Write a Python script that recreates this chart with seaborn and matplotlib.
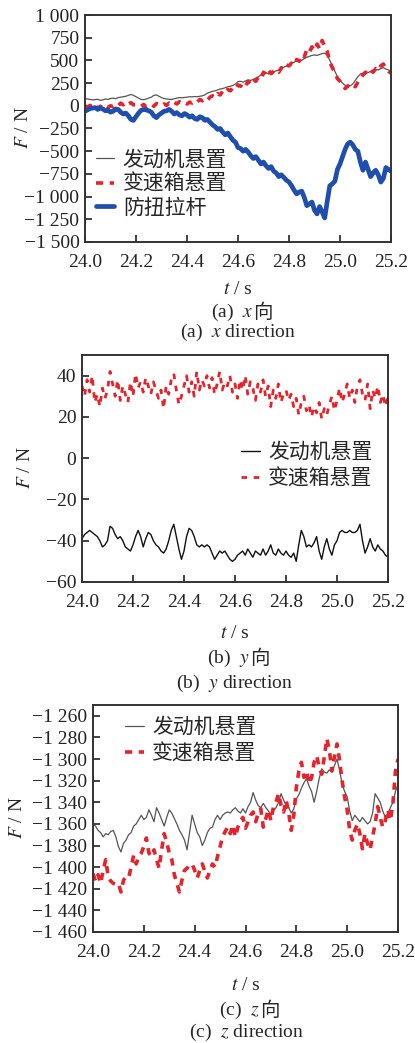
import numpy as np
import pandas as pd
import seaborn as sns
import matplotlib.pyplot as plt
from matplotlib.ticker import FuncFormatter, MultipleLocator

sns.set_style("ticks")
plt.rcParams['font.family'] = ['Liberation Serif', 'Noto Sans CJK SC']
plt.rcParams['mathtext.fontset'] = 'stix'
plt.rcParams['axes.unicode_minus'] = True

# tiempo (s), paso de 0.01 s
t = np.round(np.linspace(24.0, 25.2, 121), 2)

labels = ["发动机悬置", "变速箱悬置", "防扭拉杆"]

# (a) direccion x
fx_motor = [80, 75, 70, 65, 68, 72, 60, 65, 75, 70,
            80, 85, 78, 90, 95, 100, 105, 115, 125, 115,
            100, 85, 70, 68, 75, 85, 95, 115, 120, 105,
            90, 80, 75, 72, 70, 78, 85, 90, 88, 92,
            95, 100, 98, 102, 100, 105, 110, 120, 140, 150,
            160, 165, 175, 185, 190, 200, 210, 215, 225, 240,
            265, 270, 260, 275, 285, 280, 290, 305, 320, 340,
            370, 365, 350, 360, 375, 385, 395, 410, 425, 440,
            450, 465, 480, 495, 510, 500, 520, 535, 545, 555,
            560, 555, 565, 575, 580, 560, 500, 440, 380, 320,
            280, 250, 225, 215, 220, 240, 280, 320, 350, 360,
            355, 365, 380, 390, 400, 395, 410, 420, 405, 395,
            385]
fx_caja = [0, -15, 5, -20, 0, -25, -5, -20, 5, -15,
           0, -10, 15, 0, 30, 10, 40, 20, 35, 10,
           15, 0, -5, 15, -10, 5, 20, -5, 25, 10,
           0, 20, 5, 30, 15, 40, 20, 45, 25, 35,
           20, 40, 30, 55, 40, 70, 55, 80, 60, 95,
           110, 90, 135, 120, 160, 140, 180, 165, 200, 185,
           230, 215, 255, 225, 270, 240, 290, 270, 320, 300,
           370, 340, 390, 355, 380, 400, 370, 420, 400, 450,
           440, 470, 450, 510, 490, 560, 540, 620, 590, 650,
           610, 680, 630, 720, 650, 600, 480, 420, 360, 300,
           270, 240, 190, 220, 200, 230, 210, 260, 300, 340,
           370, 350, 390, 370, 410, 390, 440, 460, 410, 380,
           360]
fx_barra = [-60, -45, -30, -25, -20, -40, -25, -35, -55, -45,
            -70, -60, -35, -40, -70, -90, -80, -110, -150, -160,
            -120, -80, -50, -40, -45, -55, -70, -110, -130, -100,
            -80, -60, -55, -40, -60, -90, -75, -100, -110, -85,
            -100, -125, -110, -140, -150, -120, -130, -160, -150, -180,
            -210, -230, -260, -250, -290, -320, -300, -340, -380, -400,
            -460, -470, -500, -480, -510, -550, -580, -560, -600, -640,
            -620, -660, -690, -670, -720, -740, -780, -760, -790, -820,
            -840, -880, -930, -970, -950, -940, -1010, -1100, -1080, -1060,
            -1150, -1190, -1110, -1170, -1235, -1050, -880, -860, -830, -700,
            -640, -560, -480, -420, -400, -430, -480, -500, -620, -710,
            -620, -700, -780, -740, -710, -760, -840, -800, -680, -700,
            -720]

# (b) direccion y
fy_motor = [-39, -37, -36, -35, -36, -37, -38, -40, -43, -42,
            -40, -33, -34, -37, -39, -38, -40, -43, -44, -45,
            -42, -38, -35, -38, -43, -39, -36, -37, -40, -42,
            -43, -45, -46, -44, -40, -35, -32, -38, -44, -49,
            -45, -38, -34, -35, -38, -42, -43, -42, -43, -42,
            -43, -46, -49, -47, -45, -46, -45, -47, -49, -50,
            -49, -47, -46, -45, -47, -44, -46, -48, -45, -46,
            -47, -44, -47, -45, -42, -46, -47, -44, -46, -47,
            -45, -47, -48, -46, -50, -42, -35, -38, -43, -42,
            -43, -41, -38, -45, -49, -43, -39, -44, -47, -42,
            -40, -36, -35, -36, -36, -35, -36, -36, -35, -32,
            -40, -46, -43, -39, -43, -45, -42, -44, -45, -47,
            -48]
fy_caja = [35, 30, 38, 32, 40, 27, 31, 25, 34, 29,
           33, 42, 36, 30, 38, 28, 35, 31, 27, 37,
           30, 41, 34, 37, 32, 39, 35, 31, 37, 33,
           29, 33, 24, 35, 31, 38, 41, 33, 26, 30,
           35, 40, 32, 37, 30, 42, 33, 38, 35, 40,
           34, 39, 31, 36, 42, 33, 37, 35, 40, 32,
           36, 29, 38, 33, 40, 31, 37, 34, 28, 36,
           32, 38, 30, 35, 25, 33, 29, 36, 27, 31,
           33, 28, 31, 25, 29, 21, 27, 30, 23, 26,
           20, 25, 22, 27, 19, 24, 21, 26, 30, 23,
           28, 34, 27, 31, 36, 29, 33, 27, 35, 38,
           31, 28, 36, 24, 33, 29, 35, 27, 31, 25,
           30]

# (c) direccion z
fz_motor = [-1360, -1362, -1366, -1368, -1372, -1369, -1370, -1367, -1366, -1372,
            -1381, -1386, -1378, -1375, -1370, -1368, -1362, -1360, -1356, -1352,
            -1356, -1354, -1347, -1352, -1358, -1345, -1350, -1356, -1362, -1354,
            -1347, -1350, -1355, -1360, -1366, -1370, -1375, -1384, -1368, -1352,
            -1360, -1368, -1372, -1380, -1375, -1368, -1364, -1363, -1356, -1352,
            -1356, -1352, -1350, -1349, -1350, -1347, -1345, -1348, -1350, -1346,
            -1350, -1344, -1340, -1331, -1338, -1343, -1345, -1341, -1345, -1348,
            -1352, -1348, -1345, -1340, -1332, -1338, -1343, -1345, -1350, -1346,
            -1337, -1333, -1327, -1322, -1318, -1325, -1330, -1340, -1330, -1318,
            -1309, -1312, -1313, -1310, -1312, -1306, -1300, -1310, -1323, -1330,
            -1335, -1348, -1357, -1352, -1355, -1358, -1354, -1357, -1360, -1358,
            -1350, -1332, -1336, -1340, -1348, -1354, -1350, -1345, -1340, -1330,
            -1323]
fz_caja = [-1406, -1413, -1407, -1415, -1403, -1393, -1409, -1413, -1415, -1416,
           -1415, -1423, -1412, -1409, -1410, -1400, -1389, -1397, -1390, -1387,
           -1381, -1373, -1387, -1390, -1384, -1393, -1401, -1384, -1369, -1377,
           -1387, -1393, -1407, -1415, -1423, -1412, -1403, -1401, -1398, -1397,
           -1403, -1410, -1403, -1397, -1404, -1410, -1403, -1397, -1400, -1390,
           -1381, -1372, -1367, -1363, -1369, -1361, -1372, -1363, -1357, -1354,
           -1364, -1358, -1352, -1349, -1358, -1350, -1346, -1363, -1355, -1347,
           -1357, -1344, -1340, -1332, -1343, -1349, -1338, -1350, -1366, -1352,
           -1326, -1311, -1303, -1317, -1311, -1323, -1317, -1303, -1297, -1308,
           -1314, -1298, -1281, -1292, -1311, -1298, -1286, -1301, -1320, -1335,
           -1347, -1366, -1375, -1366, -1360, -1369, -1383, -1369, -1378, -1384,
           -1372, -1360, -1344, -1354, -1363, -1357, -1347, -1357, -1341, -1311,
           -1300]

gris = "#555555"
rojo = "#e8222a"
azul = "#1f4fae"


def fmt(v, pos):
    s = f"{int(round(v)):,}".replace(",", " ")
    return s.replace("-", "\u2212")


fig = plt.figure(figsize=(4.15, 10.43), dpi=100)
W, H = 415, 1043


def make_ax(l, r, top, bot):
    return fig.add_axes([l / W, 1 - bot / H, (r - l) / W, (bot - top) / H])


def style(ax, ylim, step):
    ax.set_xlim(24.0, 25.2)
    ax.set_ylim(*ylim)
    ax.xaxis.set_major_locator(MultipleLocator(0.2))
    ax.xaxis.set_major_formatter(FuncFormatter(lambda v, p: f"{v:.1f}"))
    ax.yaxis.set_major_locator(MultipleLocator(step))
    ax.yaxis.set_major_formatter(FuncFormatter(fmt))
    ax.tick_params(direction="in", length=5, width=1.2, labelsize=14,
                   colors="#222222")
    ax.tick_params(axis="x", pad=8.5)
    ax.tick_params(axis="y", pad=4)
    for sp in ax.spines.values():
        sp.set_linewidth(1.4)
        sp.set_color("#333333")
    ax.set_xlabel("")
    ax.set_ylabel("")


def captions(cx, split, y_lbl, y1, y2, letra, eje):
    fig.text(cx / W, 1 - y_lbl / H, "$t$ / s", ha="center", va="center", fontsize=14)
    # "(a)  x" en serif + "向" en CJK
    fig.text(split / W, 1 - y1 / H, f"({letra})  ${eje}$", ha="right", va="center", fontsize=14)
    fig.text(split / W, 1 - y1 / H, "向", ha="left", va="center", fontsize=14,
             family=["Noto Sans CJK SC"])
    fig.text(cx / W, 1 - y2 / H, f"({letra})  ${eje}$ direction", ha="center", va="center", fontsize=14)


leg_kw = dict(loc="upper left", frameon=False, fontsize=15, handlelength=0.9,
              handletextpad=0.4, borderpad=0, borderaxespad=0)

# ---------- (a) ----------
ax1 = make_ax(85, 391, 15, 242)
sns.lineplot(x=t, y=fx_motor, ax=ax1, color=gris, linewidth=0.9, label=labels[0])
sns.lineplot(x=t, y=fx_caja, ax=ax1, color=rojo, linewidth=2.6, linestyle=(0, (2.0, 1.8)), label=labels[1])
sns.lineplot(x=t, y=fx_barra, ax=ax1, color=azul, linewidth=3.4, label=labels[2])
style(ax1, (-1500, 1000), 250)
ax1.legend(bbox_to_anchor=(0.035, 0.40), labelspacing=0.2, **leg_kw)
fig.text(23 / W, 1 - 128 / H, "$F$ / N", rotation=90, ha="center", va="center", fontsize=14)
captions(238, 253, 290, 312, 332, "a", "x")

# ---------- (b) ----------
ax2 = make_ax(82, 388, 355, 582)
sns.lineplot(x=t, y=fy_motor, ax=ax2, color="#111111", linewidth=1.0, label=labels[0])
sns.lineplot(x=t, y=fy_caja, ax=ax2, color=rojo, linewidth=2.0, linestyle=(0, (2.0, 2.4)), label=labels[1])
style(ax2, (-60, 50), 20)
ax2.legend(bbox_to_anchor=(0.52, 0.61), labelspacing=0.3, **leg_kw)
fig.text(25 / W, 1 - 468 / H, "$F$ / N", rotation=90, ha="center", va="center", fontsize=14)
captions(235, 250, 633, 658, 683, "b", "y")

# ---------- (c) ----------
ax3 = make_ax(93, 398, 705, 932)
sns.lineplot(x=t, y=fz_motor, ax=ax3, color=gris, linewidth=0.9, label=labels[0])
sns.lineplot(x=t, y=fz_caja, ax=ax3, color=rojo, linewidth=2.6, linestyle=(0, (2.0, 1.8)), label=labels[1])
style(ax3, (-1460, -1250), 20)
ax3.legend(bbox_to_anchor=(0.105, 0.94), labelspacing=0.3, **leg_kw)
fig.text(17 / W, 1 - 818 / H, "$F$ / N", rotation=90, ha="center", va="center", fontsize=14)
captions(246, 260, 985, 1010, 1032, "c", "z")

fig.savefig("out.png", dpi=100)
